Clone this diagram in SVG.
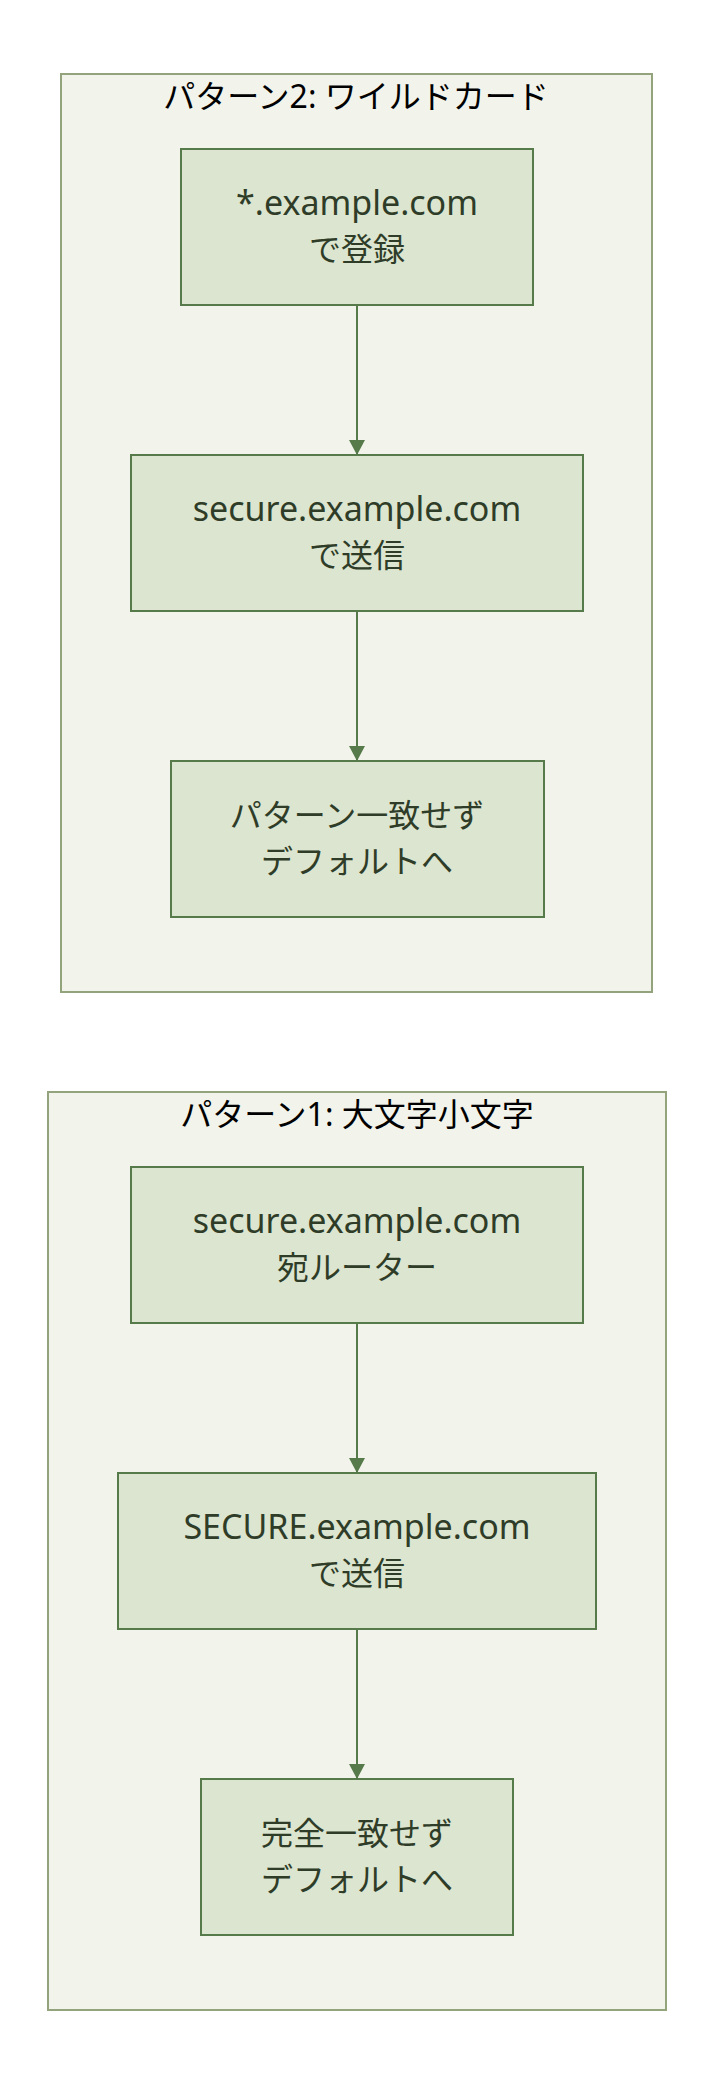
<svg xmlns="http://www.w3.org/2000/svg" width="714" height="2088" viewBox="0 0 714 2088">
<style>
.grp{fill:#f2f3eb;stroke:#93a47d;stroke-width:2}
.node{fill:#dce5cf;stroke:#567a4a;stroke-width:2}
.title{font-family:"Noto Sans","Noto Sans CJK JP",sans-serif;font-size:32px;fill:#000;text-anchor:middle}
.lat{font-family:"Noto Sans","Noto Sans CJK JP",sans-serif;font-size:34px;fill:#2e3c28;text-anchor:middle}
.cjk{font-family:"Noto Sans CJK JP",sans-serif;font-size:32px;fill:#2e3c28;text-anchor:middle}
.edge{stroke:#567a4a;stroke-width:2;fill:none}
</style>
<defs>
<marker id="arr" markerUnits="userSpaceOnUse" markerWidth="16" markerHeight="16" refX="15" refY="8" orient="auto">
<path d="M0,0 L15,8 L0,16 Z" fill="#567a4a"/>
</marker>
</defs>
<g id="group2">
<rect class="grp" x="61" y="74" width="591" height="918"/>
<text class="title" x="356" y="108">パターン2: ワイルドカード</text>
</g>
<g id="group1">
<rect class="grp" x="48" y="1092" width="618" height="918"/>
<text class="title" x="357" y="1126">パターン1: 大文字小文字</text>
</g>
<g id="connectors">
<line class="edge" x1="357" y1="305" x2="357" y2="455" marker-end="url(#arr)"/>
<line class="edge" x1="357" y1="611" x2="357" y2="761" marker-end="url(#arr)"/>
<line class="edge" x1="357" y1="1323" x2="357" y2="1473" marker-end="url(#arr)"/>
<line class="edge" x1="357" y1="1629" x2="357" y2="1779" marker-end="url(#arr)"/>
</g>
<g id="w1">
<rect class="node" x="181" y="149" width="352" height="156"/>
<text class="lat" x="357" y="215">*.example.com</text>
<text class="cjk" x="357" y="261">で登録</text>
</g>
<g id="w2">
<rect class="node" x="131" y="455" width="452" height="156"/>
<text class="lat" x="357" y="521">secure.example.com</text>
<text class="cjk" x="357" y="567">で送信</text>
</g>
<g id="w3">
<rect class="node" x="171" y="761" width="373" height="156"/>
<text class="cjk" x="357" y="827">パターン一致せず</text>
<text class="cjk" x="357" y="873">デフォルトへ</text>
</g>
<g id="c1">
<rect class="node" x="131" y="1167" width="452" height="156"/>
<text class="lat" x="357" y="1233">secure.example.com</text>
<text class="cjk" x="357" y="1279">宛ルーター</text>
</g>
<g id="c2">
<rect class="node" x="118" y="1473" width="478" height="156"/>
<text class="lat" x="357" y="1539">SECURE.example.com</text>
<text class="cjk" x="357" y="1585">で送信</text>
</g>
<g id="c3">
<rect class="node" x="201" y="1779" width="312" height="156"/>
<text class="cjk" x="357" y="1845">完全一致せず</text>
<text class="cjk" x="357" y="1891">デフォルトへ</text>
</g>
</svg>
